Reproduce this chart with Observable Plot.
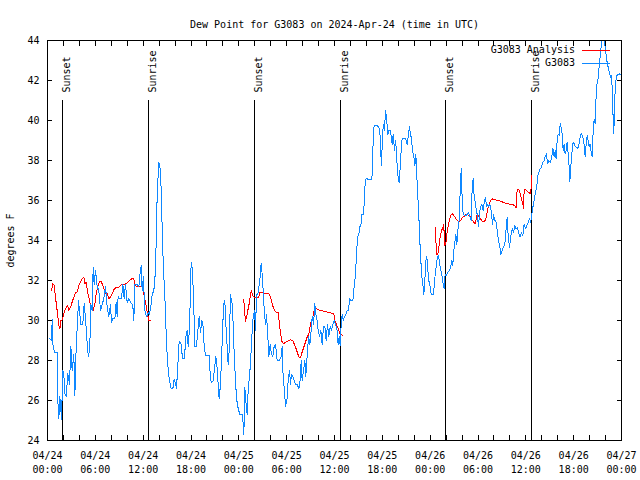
<!DOCTYPE html>
<html><head><meta charset="utf-8">
<script src="https://cdn.jsdelivr.net/npm/d3@7"></script>
<script src="https://cdn.jsdelivr.net/npm/@observablehq/plot@0.6"></script>
<style>
html,body{margin:0;padding:0;background:#fff;}
#chart svg{display:block;font-family:"DejaVu Sans Mono",monospace;}
#chart svg path, #chart svg line, #chart svg rect{shape-rendering:crispEdges;}
</style></head><body><div id="chart"></div>
<script>
const title = "Dew Point for G3083 on 2024-Apr-24 (time in UTC)";
const yLabel = "degrees F";
const startUTC = "2024-04-24T00:00:00Z";
const endUTC = "2024-04-27T00:00:00Z";
const yTicks = [24, 26, 28, 30, 32, 34, 36, 38, 40, 42, 44];
const seriesNames = ["G3083 Analysis", "G3083"];
const seriesColors = ["#ff0000", "#0f88ff"];

const sunLabels = ["Sunset", "Sunrise", "Sunset", "Sunrise", "Sunset", "Sunrise"];
const sunHours = [1.92, 12.71, 26.02, 36.77, 49.96, 60.74];

// observations (hours since 2024-04-24 00:00 UTC, degrees F)
const obsHours = [0.17,0.50,0.59,0.67,0.88,1.21,1.30,1.42,1.55,1.76,1.92,2.05,2.17,2.34,2.55,2.76,2.93,3.09,3.30,3.43,3.60,3.72,3.89,4.01,4.18,4.43,4.60,4.77,4.89,5.06,5.18,5.35,5.44,5.60,5.73,5.85,6.02,6.23,6.44,6.65,6.86,7.07,7.28,7.48,7.69,7.90,8.03,8.19,8.45,8.61,8.74,8.86,9.03,9.28,9.45,9.62,9.78,9.99,10.20,10.45,10.70,10.83,10.95,11.25,11.46,11.62,11.75,11.87,12.04,12.17,12.29,12.46,12.63,12.79,12.96,13.13,13.34,13.55,13.76,13.96,14.17,14.30,14.43,14.59,14.76,14.93,15.09,15.26,15.51,15.72,15.89,16.06,16.18,16.35,16.52,16.77,16.93,17.18,17.35,17.52,17.65,17.81,18.02,18.15,18.31,18.48,18.69,18.86,19.02,19.19,19.36,19.53,19.65,19.82,20.03,20.28,20.45,20.61,20.78,20.95,21.11,21.28,21.41,21.53,21.70,21.87,22.03,22.16,22.29,22.41,22.54,22.66,22.79,22.95,23.08,23.21,23.37,23.54,23.71,23.92,24.12,24.42,24.54,24.63,24.75,24.92,25.04,25.17,25.30,25.46,25.63,25.80,25.97,26.09,26.22,26.38,26.55,26.68,26.80,26.93,27.05,27.22,27.35,27.47,27.64,27.76,27.93,28.10,28.26,28.43,28.60,28.81,29.10,29.31,29.43,29.56,29.73,29.85,30.06,30.19,30.36,30.48,30.61,30.77,30.94,31.11,31.32,31.53,31.69,31.82,31.94,32.11,32.28,32.40,32.57,32.74,32.91,33.07,33.20,33.37,33.53,33.66,33.83,33.95,34.12,34.29,34.45,34.62,34.79,34.95,35.12,35.29,35.46,35.62,35.79,35.96,36.13,36.33,36.46,36.59,36.71,36.84,36.96,37.09,37.25,37.42,37.59,37.76,37.88,38.05,38.30,38.47,38.63,38.76,38.89,39.05,39.18,39.30,39.43,39.60,39.72,39.81,39.97,40.31,40.68,40.77,40.85,40.97,41.35,41.56,41.73,41.81,41.90,42.02,42.15,42.27,42.40,42.52,42.69,42.82,43.02,43.23,43.36,43.53,43.65,43.78,43.86,43.99,44.11,44.24,44.36,44.49,44.91,45.12,45.28,45.41,45.53,45.66,45.78,45.95,46.08,46.20,46.33,46.45,46.58,46.70,46.83,46.95,47.08,47.21,47.33,47.46,47.58,47.71,47.83,48.00,48.13,48.38,48.50,48.63,48.79,48.92,49.04,49.21,49.34,49.50,49.63,49.76,49.88,50.05,50.22,50.38,50.55,50.72,50.84,50.97,51.09,51.22,51.34,51.47,51.60,51.72,51.85,51.93,52.01,52.14,52.31,52.47,52.64,52.81,52.97,53.14,53.26,53.39,53.52,53.69,53.81,53.94,54.06,54.19,54.31,54.48,54.65,54.82,54.94,55.07,55.19,55.32,55.49,55.65,55.82,55.95,56.07,56.24,56.41,56.57,56.74,56.86,57.03,57.20,57.37,57.45,57.66,57.78,57.95,58.12,58.29,58.45,58.62,58.79,58.95,59.12,59.29,59.46,59.62,59.79,59.96,60.13,60.29,60.46,60.59,60.71,60.84,60.96,61.09,61.21,61.38,61.50,61.63,61.80,61.97,62.13,62.30,62.47,62.59,62.72,62.89,63.05,63.22,63.39,63.56,63.68,63.80,63.93,64.06,64.18,64.31,64.43,64.56,64.68,64.81,64.93,65.06,65.18,65.31,65.44,65.52,65.64,65.77,65.89,66.02,66.15,66.31,66.48,66.65,66.82,66.98,67.15,67.32,67.44,67.57,67.69,67.82,67.94,68.07,68.20,68.32,68.45,68.57,68.70,68.82,68.95,69.07,69.24,69.37,69.49,69.62,69.74,69.87,69.99,70.12,70.24,70.37,70.49,70.62,70.75,70.87,70.95,71.04,71.12,71.25,71.37,71.54,71.75,71.92];
const obsDewpt = [29.13,29.0,30.05,28.8,28.4,28.4,25.95,25.1,26.2,25.05,27.5,27.3,26.35,26.2,27.35,26.8,28.7,27.5,28.3,26.25,28.7,29.6,31.0,30.5,29.8,29.8,30.87,30.1,29.35,28.4,28.2,29.2,30.8,30.5,32.67,31.8,32.5,31.7,31.5,30.5,30.8,31.1,31.7,30.7,30.2,30.8,29.9,30.1,30.1,30.9,30.2,31.2,31.1,31.1,31.8,31.1,31.8,30.9,31.1,30.9,30.75,30.0,31.8,31.8,31.7,32.4,32.75,31.5,32.2,30.7,30.3,30.2,30.4,30.3,30.7,31.3,31.5,32.5,36.3,37.9,37.5,36.0,33.8,32.2,30.8,28.8,27.8,27.1,26.58,26.58,27.08,26.83,26.58,27.8,28.97,28.8,28.1,28.1,29.2,29.5,28.7,29.6,32.9,32.6,31.3,28.7,28.7,29.5,30.2,29.4,30.0,29.7,28.75,28.25,28.25,28.25,27.0,26.9,27.0,27.6,28.2,27.6,26.8,26.1,26.8,28.5,30.2,31.0,30.7,29.5,28.7,27.8,28.5,31.3,31.0,30.7,28.8,27.3,26.1,25.6,25.3,25.3,24.85,24.3,26.63,25.8,25.3,26.5,27.1,27.8,29.2,30.2,30.5,29.5,31.3,31.3,31.8,32.2,32.88,32.3,31.5,30.3,29.8,30.3,29.2,28.2,28.8,28.3,28.2,28.7,28.8,28.0,28.0,28.2,28.7,27.17,26.5,25.7,26.1,27.0,27.5,26.8,27.3,27.2,27.0,26.8,26.8,26.6,27.0,28.0,27.0,27.5,28.0,27.2,28.2,29.2,28.8,29.5,30.2,29.8,30.83,30.3,30.0,29.5,29.2,29.5,28.8,29.7,29.7,29.0,29.8,29.2,29.7,29.5,29.8,30.0,29.8,29.5,28.8,29.2,28.75,29.8,30.3,30.0,30.2,30.3,30.5,30.5,31.08,31.0,31.0,31.7,32.3,33.3,34.2,34.3,34.7,34.7,35.3,35.3,35.8,36.67,37.13,37.03,37.03,37.67,39.08,39.75,39.75,39.67,39.2,38.3,37.75,39.3,39.8,39.5,40.5,40.2,39.3,39.5,39.5,38.8,39.3,38.5,39.0,38.5,37.67,37.1,36.9,37.67,38.5,39.12,39.12,38.8,39.3,39.7,39.3,39.1,38.5,38.2,37.75,38.3,37.2,36.2,35.2,34.0,33.0,32.2,31.83,31.3,32.0,33.0,33.2,32.5,32.0,31.67,31.3,31.3,31.67,32.3,32.8,33.2,33.25,32.8,32.5,32.2,31.83,31.6,32.3,32.25,32.4,32.5,32.6,33.0,32.75,33.5,33.9,34.3,33.8,34.5,34.8,36.0,37.33,37.6,36.0,35.3,35.25,35.25,35.3,35.4,35.2,35.0,36.5,37.1,36.2,35.8,35.5,35.2,34.7,35.3,35.7,35.8,35.5,36.0,36.13,35.7,35.8,35.7,35.8,35.5,34.8,35.3,35.0,35.0,34.5,34.0,33.7,33.3,33.5,33.7,33.8,34.25,35.17,34.25,33.67,34.25,34.58,34.4,34.75,34.58,34.67,34.33,34.17,34.4,34.25,34.83,34.58,34.75,34.9,35.12,34.9,35.17,35.6,35.8,36.1,36.4,36.75,37.25,37.42,37.58,37.67,37.9,38.0,38.25,38.33,37.83,38.0,37.9,38.1,38.6,38.17,38.5,38.1,39.0,39.33,39.25,39.83,39.67,39.33,38.5,38.83,38.33,38.5,38.92,38.33,37.67,36.95,37.67,38.33,38.83,38.92,38.75,38.67,38.58,38.75,39.17,39.37,39.17,38.75,38.17,38.83,39.25,39.0,38.67,38.83,38.42,38.17,39.5,40.08,39.83,41.25,41.92,42.08,42.92,43.33,43.92,44.2,44.1,43.9,43.58,43.08,42.83,42.58,42.42,42.17,42.25,41.25,40.08,39.33,40.92,41.75,42.25,42.28,42.33,42.28];

// analysis (null = no analysis available)
const anaHours = [0.50,0.67,0.84,1.00,1.21,1.42,1.55,1.67,1.84,2.05,2.26,2.51,2.68,2.89,3.09,3.30,3.51,3.72,3.93,4.14,4.35,4.56,4.68,4.85,5.02,5.18,5.35,5.52,5.73,5.94,6.10,6.31,6.52,6.73,6.94,7.15,7.36,7.53,7.69,7.90,8.11,8.32,8.53,8.74,8.95,9.16,9.37,9.57,9.78,9.99,10.20,10.41,10.62,10.83,10.95,11.25,11.67,11.87,12.00,12.13,12.29,12.42,12.54,12.71,12.96,18.0,24.63,24.71,24.84,24.96,25.09,25.21,25.34,25.46,25.59,25.71,25.88,26.30,26.51,26.63,26.97,27.22,27.76,27.97,28.14,28.31,28.47,28.64,28.93,29.10,29.23,29.43,29.64,29.85,30.19,30.48,30.77,30.94,31.11,31.32,31.53,31.74,31.94,32.15,32.36,32.57,32.78,32.95,33.12,33.28,33.45,33.62,34.03,34.87,35.62,35.92,36.04,36.21,36.38,36.54,36.71,37.00,43.0,48.71,48.75,48.96,49.09,49.25,49.42,49.55,49.63,49.71,49.80,49.96,50.13,50.30,50.47,50.63,50.80,50.97,51.18,51.39,51.60,51.81,52.01,52.22,52.43,52.64,52.85,53.06,53.26,53.47,53.69,53.81,53.98,54.15,54.31,54.52,54.73,54.94,55.11,55.28,55.44,55.57,55.78,56.19,56.61,57.03,57.45,57.87,58.29,58.62,58.79,58.91,59.12,59.29,59.46,59.62,59.71,59.79,59.96,60.13,60.29,60.46,60.63,60.71];
const anaDewpt = [31.5,31.83,31.75,31.17,30.5,29.75,29.58,30.0,30.03,30.33,30.58,30.75,30.5,30.67,30.92,31.17,31.37,31.42,31.75,31.95,32.08,32.17,31.83,31.92,31.42,31.17,30.83,30.53,30.5,30.83,31.33,31.67,31.97,31.95,31.75,31.53,31.33,31.33,31.08,31.17,31.33,31.53,31.63,31.63,31.67,31.75,31.8,31.78,31.83,31.88,31.97,32.03,32.12,32.08,31.75,31.7,31.7,31.75,31.83,31.17,30.92,30.67,30.33,30.0,30.0,null,31.03,30.5,29.97,30.17,30.42,30.67,30.92,31.33,31.5,31.25,31.17,31.17,31.17,31.42,31.42,31.37,31.33,31.17,30.92,30.67,30.5,30.42,30.42,29.83,29.33,28.92,28.83,28.92,28.97,29.03,29.0,28.83,28.67,28.42,28.17,28.17,28.42,28.67,28.92,29.17,29.33,29.75,30.0,30.17,30.5,30.63,30.53,30.45,30.37,30.33,30.0,29.83,29.67,29.5,29.33,29.25,null,34.67,33.3,33.3,33.67,34.17,34.5,34.67,34.5,34.8,33.75,33.83,34.42,34.83,35.08,35.3,35.33,35.25,35.12,35.0,34.92,35.0,35.13,35.2,35.28,35.3,35.25,35.17,35.03,34.92,34.83,35.25,35.3,35.17,35.08,34.97,34.95,35.03,35.33,35.67,35.83,36.0,36.08,36.03,36.0,35.93,35.87,35.83,35.8,35.75,35.63,36.55,36.55,36.33,36.08,35.83,35.58,36.55,36.55,36.47,36.42,36.38,36.33,37.25];

const t0 = Date.parse(startUTC);
const toDate = h => new Date(t0 + h * 3600e3);
const obs = obsHours.map((h, i) => ({t: toDate(h), v: obsDewpt[i]}));
const ana = anaHours.map((h, i) => ({t: toDate(h), v: anaDewpt[i]}));
const sun = sunHours.map((h, i) => ({t: toDate(h), label: sunLabels[i]}));
const xTicks = d3.utcHour.range(new Date(startUTC), new Date(Date.parse(endUTC) + 1), 2);
const pad = n => String(n).padStart(2, "0");
const xFmt = d => d.getUTCHours() % 6 ? "" :
  `${pad(d.getUTCMonth() + 1)}/${pad(d.getUTCDate())}\n${pad(d.getUTCHours())}:${pad(d.getUTCMinutes())}`;

const chart = Plot.plot({
  width: 640, height: 480,
  marginLeft: 47, marginRight: 19, marginTop: 40, marginBottom: 40,
  style: {fontFamily: "'DejaVu Sans Mono', monospace", fontSize: "10px", background: "#fff", color: "#000"},
  x: {type: "utc", domain: [new Date(startUTC), new Date(endUTC)]},
  y: {domain: [24, 44]},
  marks: [
    Plot.axisX({anchor: "bottom", ticks: xTicks, tickSize: -5, tickPadding: 13.5, tickFormat: xFmt, lineHeight: 1.4, label: null}),
    Plot.axisX({anchor: "top", ticks: xTicks, tickSize: -5, tickFormat: () => "", label: null}),
    Plot.axisY({anchor: "left", ticks: yTicks, tickSize: -5, tickPadding: 13, label: yLabel, labelAnchor: "center", labelOffset: 41, labelArrow: "none"}),
    Plot.axisY({anchor: "right", ticks: yTicks, tickSize: -5, tickFormat: () => "", label: null}),
    Plot.ruleX(sun, {x: "t", insetTop: 60, stroke: "#000"}),
    Plot.text(sun, {x: "t", text: "label", frameAnchor: "top", dy: 52, rotate: -90, textAnchor: "start", fill: "#000"}),
    Plot.line(ana, {x: "t", y: "v", stroke: seriesColors[0], strokeWidth: 1, clip: true}),
    Plot.line(obs, {x: "t", y: "v", stroke: seriesColors[1], strokeWidth: 1, clip: true}),
    Plot.frame({stroke: "#000"}),
    Plot.text([title], {frameAnchor: "top", dy: -20, fill: "#000"})
  ]
});

// legend (top right, inside the frame)
const svg = d3.select(chart);
const lg = svg.append("g").attr("font-family", "'DejaVu Sans Mono', monospace").attr("font-size", 10);
seriesNames.forEach((name, i) => {
  const y = 50 + i * 13;
  lg.append("text").attr("x", 575).attr("y", y).attr("dy", "0.32em").attr("text-anchor", "end").attr("fill", "#000").text(name);
  lg.append("line").attr("x1", 582).attr("x2", 610).attr("y1", y).attr("y2", y).attr("stroke", seriesColors[i]).attr("stroke-width", 1);
});
document.getElementById("chart").append(chart);
</script></body></html>
